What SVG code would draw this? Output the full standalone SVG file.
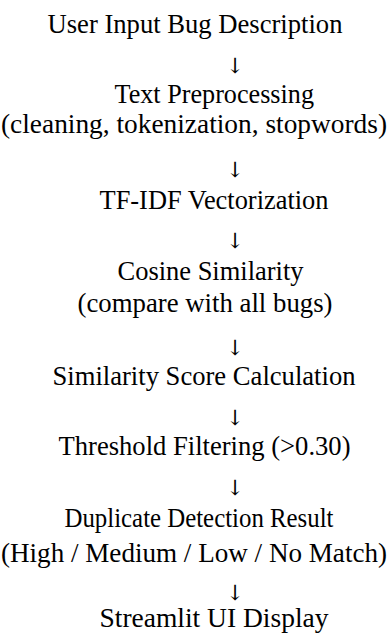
<svg xmlns="http://www.w3.org/2000/svg" width="388" height="637" viewBox="0 0 388 637">
  <style>
    .lbl { fill: #000000; font-size: 26.5px; }
    .arr { fill: #000000; font-size: 21px; text-anchor: middle; }
  </style>
  <rect width="388" height="637" fill="#ffffff"/>

  <!-- pipeline steps, top to bottom -->
  <g font-family="'Liberation Serif', 'Times New Roman', serif">
    <g id="input">
      <text class="lbl" x="47.5" y="33" textLength="295" lengthAdjust="spacingAndGlyphs">User Input Bug Description</text>
    </g>
    <g id="preprocess">
      <text class="lbl" x="114.5" y="103" textLength="199.5" lengthAdjust="spacingAndGlyphs">Text Preprocessing</text>
      <text class="lbl" x="1" y="133" textLength="386" lengthAdjust="spacingAndGlyphs">(cleaning, tokenization, stopwords)</text>
    </g>
    <g id="tfidf">
      <text class="lbl" x="99.5" y="209" textLength="229" lengthAdjust="spacingAndGlyphs">TF-IDF Vectorization</text>
    </g>
    <g id="cosine">
      <text class="lbl" x="117.5" y="280" textLength="186" lengthAdjust="spacingAndGlyphs">Cosine Similarity</text>
      <text class="lbl" x="77.5" y="312" textLength="255" lengthAdjust="spacingAndGlyphs">(compare with all bugs)</text>
    </g>
    <g id="score">
      <text class="lbl" x="52.5" y="385" textLength="303" lengthAdjust="spacingAndGlyphs">Similarity Score Calculation</text>
    </g>
    <g id="threshold">
      <text class="lbl" x="58.5" y="455" textLength="292" lengthAdjust="spacingAndGlyphs">Threshold Filtering (&gt;0.30)</text>
    </g>
    <g id="result">
      <text class="lbl" x="64.5" y="527" textLength="269" lengthAdjust="spacingAndGlyphs">Duplicate Detection Result</text>
      <text class="lbl" x="1" y="562" textLength="386" lengthAdjust="spacingAndGlyphs">(High / Medium / Low / No Match)</text>
    </g>
    <g id="display">
      <text class="lbl" x="99.5" y="627" textLength="229" lengthAdjust="spacingAndGlyphs">Streamlit UI Display</text>
    </g>
  </g>

  <!-- downward arrows between steps -->
  <g id="connectors" font-family="'DejaVu Serif', serif">
    <text class="arr" x="235" y="73">↓</text>
    <text class="arr" x="235" y="177">↓</text>
    <text class="arr" x="235" y="248">↓</text>
    <text class="arr" x="235" y="355">↓</text>
    <text class="arr" x="235" y="425">↓</text>
    <text class="arr" x="235" y="495">↓</text>
    <text class="arr" x="235" y="600">↓</text>
  </g>
</svg>
